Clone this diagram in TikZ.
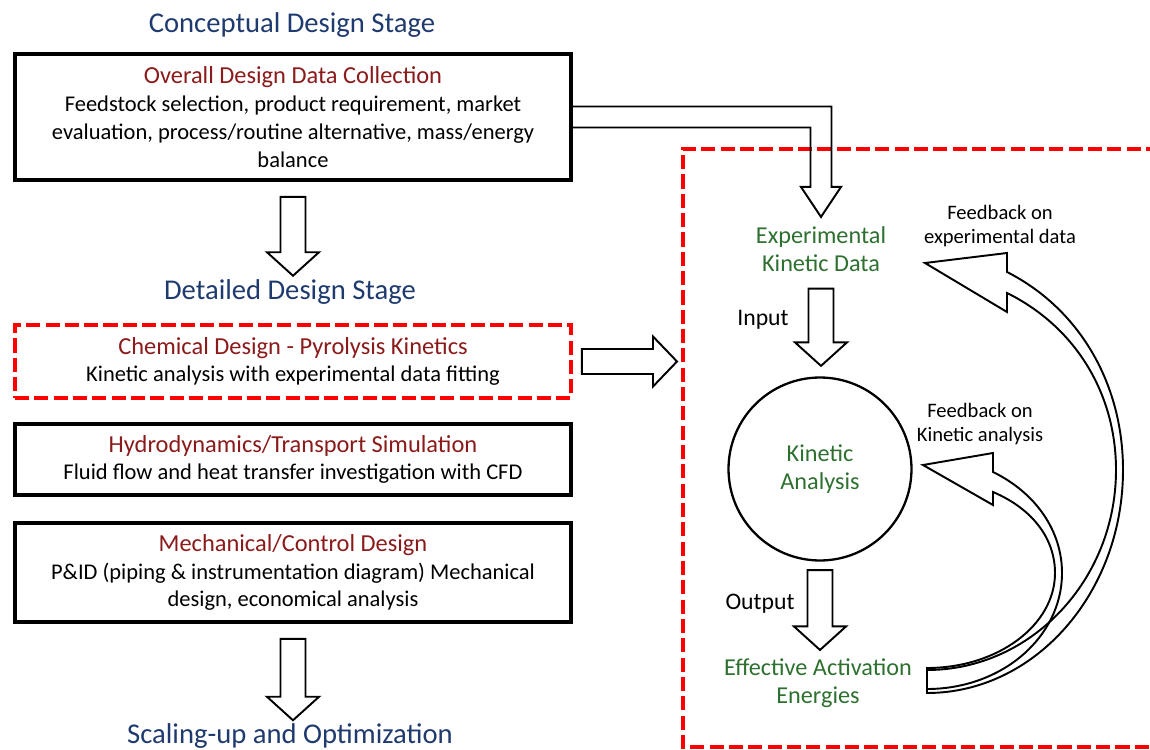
\documentclass[tikz,border=0pt]{standalone}
\usepackage{fontspec}
\setmainfont{Carlito}
\usetikzlibrary{calc}
\definecolor{stageblue}{HTML}{1F3A6E}
\definecolor{headred}{HTML}{8B1A1A}
\definecolor{kingreen}{HTML}{2E7030}
\definecolor{dashred}{HTML}{FF0000}
\newcommand{\boxhead}[1]{{\fontsize{13.9}{15.8}\selectfont\color{headred}#1}}

\begin{document}
\begin{tikzpicture}[
  x=0.02cm, y=-0.02cm,
  line join=miter,
  stage/.style={text=stageblue, inner sep=0pt, font=\fontsize{16.3}{19}\selectfont},
  designbox/.style={rectangle, draw, line width=2.2pt, minimum width=11.12cm, align=center, font=\fontsize{12.8}{15.8}\selectfont},
  kinbox/.style={designbox, draw=dashred, dash pattern=on 8pt off 3pt},
  frame/.style={draw=dashred, line width=2.2pt, dash pattern=on 8pt off 3pt},
  greentxt/.style={text=kingreen, align=center, inner sep=0pt, font=\fontsize{13.8}{16.2}\selectfont},
  note/.style={align=center, inner sep=0pt, font=\fontsize{11.7}{14}\selectfont},
  fat/.style={draw, line width=1.1pt},
  fatdown/.style={fat, to path={let \p1=(\tikztostart), \p2=(\tikztotarget) in
    (\x1-0.25cm,\y1) -- (\x1+0.25cm,\y1) -- (\x1+0.25cm,\y2+0.47cm) -- (\x1+0.52cm,\y2+0.47cm)
    -- (\x1,\y2) -- (\x1-0.52cm,\y2+0.47cm) -- (\x1-0.25cm,\y2+0.47cm) -- cycle}},
  fatright/.style={fat, to path={let \p1=(\tikztostart), \p2=(\tikztotarget) in
    (\x1,\y1+0.25cm) -- (\x2-0.48cm,\y1+0.25cm) -- (\x2-0.48cm,\y1+0.5cm) -- (\x2,\y1)
    -- (\x2-0.48cm,\y1-0.5cm) -- (\x2-0.48cm,\y1-0.25cm) -- (\x1,\y1-0.25cm) -- cycle}},
  fatbend/.style={fat, to path={let \p1=(\tikztostart), \p2=(\tikztotarget) in
    (\x1,\y1+0.21cm) -- (\x2+0.21cm,\y1+0.21cm) -- (\x2+0.21cm,\y2+0.6cm) -- (\x2+0.4cm,\y2+0.6cm)
    -- (\x2,\y2) -- (\x2-0.4cm,\y2+0.6cm) -- (\x2-0.21cm,\y2+0.6cm) -- (\x2-0.21cm,\y1-0.21cm) -- (\x1,\y1-0.21cm)}}
]
  \useasboundingbox (0,0) rectangle (1150,750);

  \node[stage] (concept) at (292,25) {Conceptual Design Stage};
  \node[designbox, minimum height=2.52cm] (collect) at (293,117) {\boxhead{Overall Design Data Collection}\\Feedstock selection, product requirement, market\\evaluation, process/routine alternative, mass/energy\\balance};
  \node[stage] (detailed) at (290,292) {Detailed Design Stage};
  \node[kinbox, minimum height=1.46cm] (chem) at (293,361.5) {\boxhead{Chemical Design - Pyrolysis Kinetics}\\Kinetic analysis with experimental data fitting};
  \node[designbox, minimum height=1.42cm] (hydro) at (293,459.5) {\boxhead{Hydrodynamics/Transport Simulation}\\Fluid flow and heat transfer investigation with CFD};
  \node[designbox, minimum height=1.98cm] (mech) at (293,572.5) {\boxhead{Mechanical/Control Design}\\P\&ID (piping \& instrumentation diagram) Mechanical\\design, economical analysis};
  \node[stage, anchor=base] (scaleup) at (290,743) {Scaling-up and Optimization};

  \coordinate (frame) at (683,149);
  \draw[frame] (1160,149) -| (683,747) -- (1160,747);

  \node[greentxt] (expdata) at (821,249) {Experimental\\Kinetic Data};
  \node[circle, draw, line width=1.3pt, minimum size=3.66cm, greentxt] (kinetic) at (820,469) {Kinetic\\Analysis};
  \node[greentxt] (energies) at (818,683) {Effective Activation\\Energies};
  \node[font=\fontsize{13.5}{16}\selectfont] (input) at (763,320) {Input};
  \node[font=\fontsize{13.5}{16}\selectfont] (output) at (760,604) {Output};
  \node[note] (fbdata) at (1000,226) {Feedback on\\experimental data};
  \node[note] (fbkin) at (980,424) {Feedback on\\Kinetic analysis};

  \draw[fatdown] ([yshift=-0.3cm]collect.south) to ([yshift=0.07cm]detailed.north);
  \draw[fatdown] ([yshift=-0.3cm]mech.south) to ([yshift=0.05cm]scaleup.north);
  \draw[fatright] ([xshift=0.18cm]chem.east) to ([xshift=-0.12cm]frame |- chem.east);
  \draw[fatbend] (collect.east) to ([yshift=0.18cm]expdata.north);
  \draw[fatdown] ([yshift=-0.33cm]expdata.south) to ([yshift=0.21cm]kinetic.north);
  \draw[fatdown] ([yshift=-0.17cm]kinetic.south) to ([yshift=0.16cm]energies.north);

  % curved feedback arrows
  \draw[fat] (927,670) .. controls (1031,670) and (1116,580) .. (1116,470)
    .. controls (1116,392) and (1074,326) .. (1007,293) -- (1007,312) -- (925,263) -- (1007,253) -- (1007,272)
    .. controls (1078,308) and (1123,382) .. (1123,470) .. controls (1123,593) and (1035,693) .. (927,693) -- cycle;
  \draw[fat] (927,668) .. controls (998,668) and (1055,625) .. (1055,573)
    .. controls (1055,539) and (1033,509) .. (993,492) -- (993,505) -- (923,465) -- (993,453) -- (993,472)
    .. controls (1036,493) and (1062,531) .. (1062,573) .. controls (1062,637) and (1002,689) .. (927,689) -- cycle;
\end{tikzpicture}
\end{document}
